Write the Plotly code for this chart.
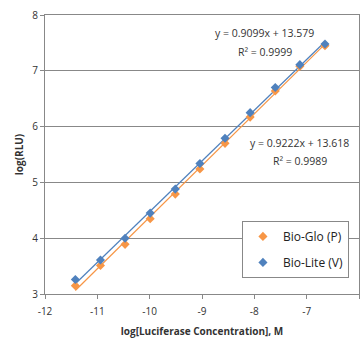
import numpy as np
import plotly.graph_objects as go

log_conc = [-11.42, -10.94, -10.47, -9.99, -9.51, -9.04, -8.56, -8.08, -7.60, -7.13, -6.65]
bio_glo_p = [3.15, 3.51, 3.89, 4.35, 4.79, 5.24, 5.70, 6.17, 6.64, 7.08, 7.45]
bio_lite_v = [3.26, 3.61, 4.00, 4.45, 4.88, 5.34, 5.79, 6.25, 6.70, 7.11, 7.48]
eq_lines = ["y = 0.9099x + 13.579", "R² = 0.9999", "y = 0.9222x + 13.618", "R² = 0.9989"]
x_ticks = [-12, -11, -10, -9, -8, -7, -6]
x_tick_text = ["-12", "-11", "-10", "-9", "-8", "-7", "-6"]
y_ticks = [3, 4, 5, 6, 7, 8]

ORANGE = "#F79646"
BLUE = "#4F81BD"
FONT = "Open Sans"

fig = go.Figure()

def trend(xs, ys):
    m, b = np.polyfit(xs, ys, 1)
    xe = [min(xs), max(xs)]
    return xe, [m * v + b for v in xe]

series = [("Bio-Glo (P)", bio_glo_p, ORANGE), ("Bio-Lite (V)", bio_lite_v, BLUE)]
for name, ys, col in series:
    tx, ty = trend(log_conc, ys)
    fig.add_trace(go.Scatter(x=tx, y=ty, mode="lines", line=dict(color=col, width=1.2),
                             showlegend=False, hoverinfo="skip"))

for name, ys, col in series:
    fig.add_trace(go.Scatter(x=log_conc, y=ys, mode="markers", name=name, legendgroup=name,
                             marker=dict(symbol="diamond", size=7, color=col)))

ann_pos = [(-7.8, 7.67), (-7.8, 7.33), (-7.13, 5.70), (-7.13, 5.38)]
for txt, (ax, ay) in zip(eq_lines, ann_pos):
    fig.add_annotation(x=ax, y=ay, text=txt, showarrow=False,
                       font=dict(family=FONT, size=10.5, color="#333"))

fig.update_layout(
    width=362, height=338,
    margin=dict(l=45, r=3, t=15, b=44, autoexpand=False),
    paper_bgcolor="white", plot_bgcolor="white",
    font=dict(family=FONT, size=10, color="#333"),
    legend=dict(x=0.968, y=0.262, xanchor="right", yanchor="top",
                bordercolor="#888", borderwidth=1, bgcolor="white",
                font=dict(family=FONT, size=12, color="#222"),
                itemwidth=30, tracegroupgap=7),
    xaxis=dict(range=[-12, -6], tickvals=x_ticks, ticktext=x_tick_text, ticks="outside", ticklen=4,
               tickcolor="#888", showgrid=False, showline=True, linecolor="#888",
               mirror=True, zeroline=False, automargin=False, ticklabelstandoff=4,
               title=dict(text="<b>log[Luciferase Concentration], M</b>", standoff=12,
                          font=dict(family=FONT, size=10, color="#333"))),
    yaxis=dict(range=[3, 8], tickvals=y_ticks, ticks="outside", ticklen=4,
               tickcolor="#888", showgrid=True, gridcolor="#888", gridwidth=1,
               showline=True, linecolor="#888", mirror=True, zeroline=False, automargin=False,
               title=dict(text="<b>log(RLU)</b>", standoff=6,
                          font=dict(family=FONT, size=10, color="#333"))),
)

fig.write_html("out.html", config={"displayModeBar": False},
               post_script="document.body.style.margin='0';")
